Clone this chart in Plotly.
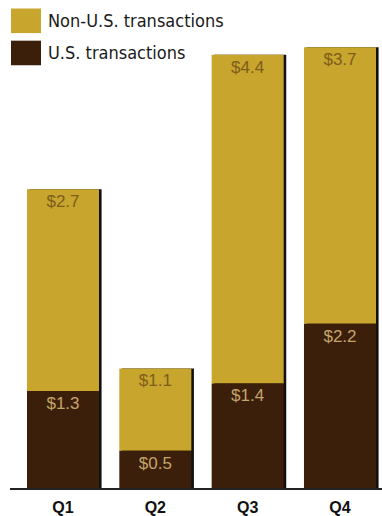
import plotly.graph_objects as go

quarters = ["Q1", "Q2", "Q3", "Q4"]
us_values = [1.3, 0.5, 1.4, 2.2]
non_us_values = [2.7, 1.1, 4.4, 3.7]
series_names = ["Non-U.S. transactions", "U.S. transactions"]

NON_US_COLOR = "#c8a52c"
US_COLOR = "#3b1f0a"
BAR_W = 0.78

totals = [a + b for a, b in zip(us_values, non_us_values)]

fig = go.Figure()

# shadow (dark right edge)
fig.add_trace(go.Bar(
    x=quarters, y=totals, width=BAR_W, offset=-BAR_W / 2 + 0.028,
    marker=dict(color="#111111", line=dict(width=0)),
    hoverinfo="skip", showlegend=False,
))

fig.add_trace(go.Bar(
    x=quarters, y=non_us_values, base=us_values, width=BAR_W,
    name=series_names[0],
    marker=dict(color=NON_US_COLOR, line=dict(width=0)),
    text=[f"${v}" for v in non_us_values],
    textposition="inside", insidetextanchor="end", textangle=0,
    textfont=dict(family="Liberation Sans, Arial, sans-serif", size=17, color="#7d5d1c"),
    showlegend=False,
))

fig.add_trace(go.Bar(
    x=quarters, y=us_values, width=BAR_W,
    name=series_names[1],
    marker=dict(color=US_COLOR, line=dict(width=0)),
    text=[f"${v}" for v in us_values],
    textposition="inside", insidetextanchor="end", textangle=0,
    textfont=dict(family="Liberation Sans, Arial, sans-serif", size=17, color="#c4a46a"),
    showlegend=False,
))

# custom legend
legend_colors = [NON_US_COLOR, US_COLOR]
for i, (name, col) in enumerate(zip(series_names, legend_colors)):
    y0 = 1 - (9 + 34 * i) / 516
    y1 = 1 - (35 + 34 * i) / 516
    fig.add_shape(type="rect", xref="paper", yref="paper",
                  x0=1 / 372, x1=31 / 372, y0=y1, y1=y0,
                  fillcolor=col, line=dict(width=0), layer="above")
    fig.add_annotation(xref="paper", yref="paper", x=36 / 372, y=(y0 + y1) / 2,
                       text=name, showarrow=False, xanchor="left", yanchor="middle",
                       font=dict(family="DejaVu Sans Condensed, Liberation Sans Narrow, sans-serif",
                                 size=18, color="#1a1a1a"))

fig.update_layout(
    width=382, height=516,
    margin=dict(l=10, r=0, t=0, b=26),
    paper_bgcolor="white", plot_bgcolor="white",
    barmode="overlay",
    showlegend=False,
    xaxis=dict(
        range=[-0.574, 3.455], showgrid=False, zeroline=False,
        showline=True, linecolor="#222222", linewidth=2,
        ticks="", ticklabelstandoff=4,
        tickfont=dict(family="Liberation Sans, Arial, sans-serif", size=16, color="#111111"),
        tickprefix="<b>", ticksuffix="</b>", fixedrange=True,
    ),
    yaxis=dict(range=[0, 490 / 75], visible=False, fixedrange=True),
)

fig.write_html("out.html")
